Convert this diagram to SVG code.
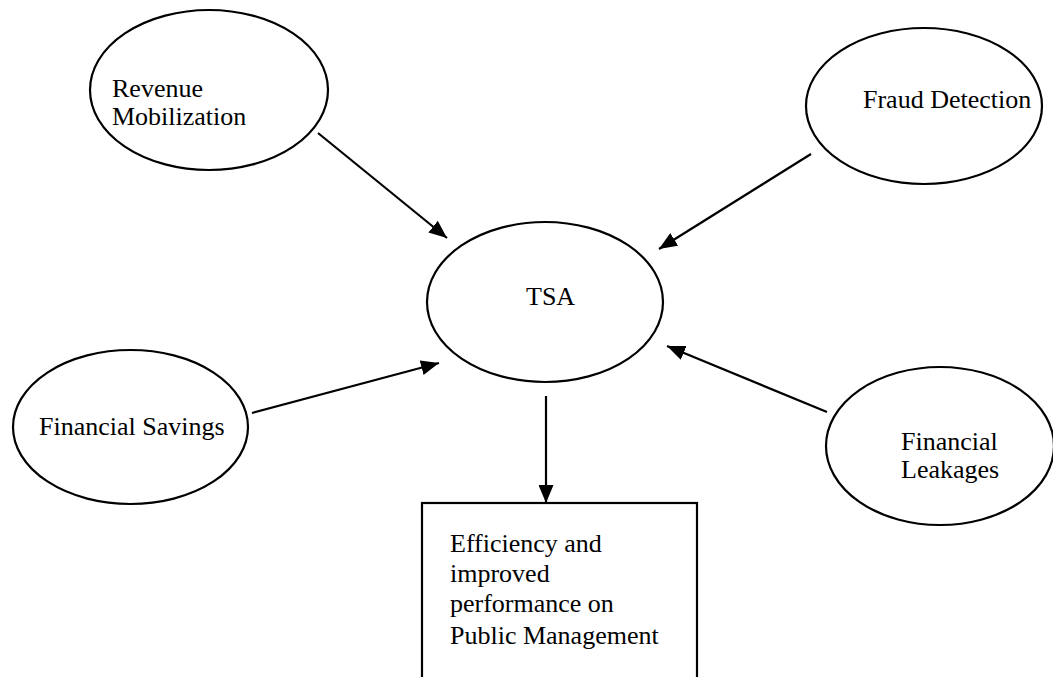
<svg xmlns="http://www.w3.org/2000/svg" width="1053" height="677" viewBox="0 0 1053 677">
<style>
.n{fill:#fff;stroke:#000;stroke-width:2.2}
.t{font-family:"Liberation Serif","Times New Roman",serif;font-size:26px;fill:#000}
.c{stroke:#000;stroke-width:2.2;fill:none;marker-end:url(#ah)}
</style>
<defs>
<marker id="ah" markerWidth="18" markerHeight="15" refX="18" refY="7.5" orient="auto" markerUnits="userSpaceOnUse" viewBox="0 0 18 15">
<path d="M0,0 L18,7.5 L0,15 Z" fill="#000"/>
</marker>
</defs>
<rect width="1053" height="677" fill="#fff"/>
<g id="connectors">
<line class="c" x1="318" y1="133" x2="447" y2="238"/>
<line class="c" x1="811" y1="154" x2="659" y2="249"/>
<line class="c" x1="252" y1="413" x2="439" y2="363"/>
<line class="c" x1="827" y1="412" x2="667" y2="346"/>
<line class="c" x1="546" y1="396" x2="546" y2="503"/>
</g>
<g id="revenue">
<ellipse class="n" cx="209" cy="90" rx="119" ry="80"/>
<text class="t" x="112" y="97">Revenue</text>
<text class="t" x="112" y="125">Mobilization</text>
</g>
<g id="fraud">
<ellipse class="n" cx="924" cy="106" rx="118" ry="78"/>
<text class="t" x="863" y="108">Fraud Detection</text>
</g>
<g id="tsa">
<ellipse class="n" cx="545" cy="302" rx="118" ry="80"/>
<text class="t" x="526" y="305">TSA</text>
</g>
<g id="savings">
<ellipse class="n" cx="130.5" cy="427" rx="117.5" ry="77"/>
<text class="t" x="39" y="435">Financial Savings</text>
</g>
<g id="leakages">
<ellipse class="n" cx="940" cy="446" rx="114" ry="79"/>
<text class="t" x="901" y="450">Financial</text>
<text class="t" x="901" y="478">Leakages</text>
</g>
<g id="efficiency">
<rect class="n" x="422" y="503" width="275" height="200"/>
<text class="t" x="450" y="552">Efficiency and</text>
<text class="t" x="450" y="582">improved</text>
<text class="t" x="450" y="612">performance on</text>
<text class="t" x="450" y="644">Public Management</text>
</g>
</svg>
